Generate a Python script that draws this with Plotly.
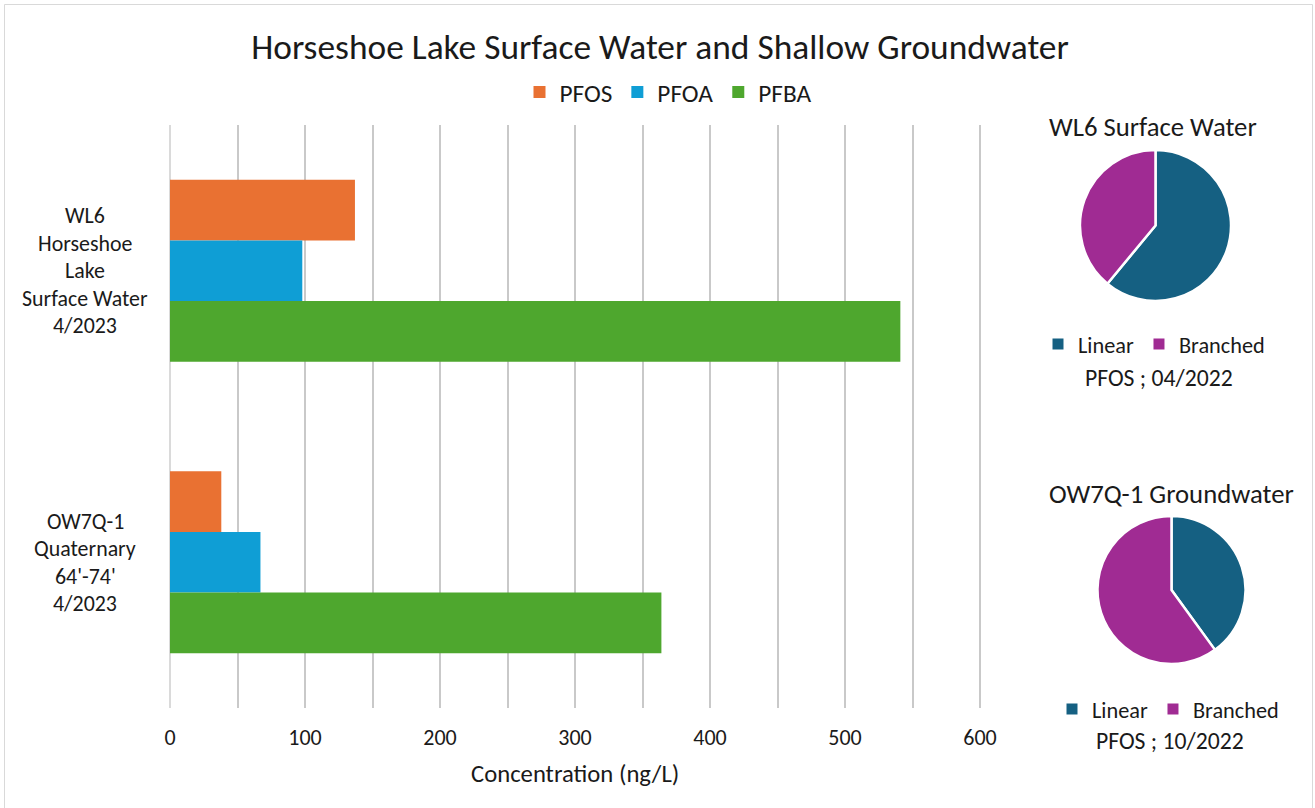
import plotly.graph_objects as go

W, H = 1315, 808

# ---- data ----
categories = ["WL6", "OW7Q-1"]
category_labels = [
    ["WL6", "Horseshoe", "Lake", "Surface Water", "4/2023"],
    ["OW7Q-1", "Quaternary", "64'-74'", "4/2023"],
]
series_names = ["PFOS", "PFOA", "PFBA"]
pfos = [137, 38]
pfoa = [98, 67]
pfba = [541, 364]
series_values = [pfos, pfoa, pfba]
series_colors = ["#E97132", "#0F9ED5", "#4EA72E"]

x_ticks = [0, 100, 200, 300, 400, 500, 600]

pie_labels = ["Linear", "Branched"]
pie_colors = ["#156082", "#A02B93"]
wl6_pfos_split = [61, 39]
ow7q_pfos_split = [40, 60]
pie_titles = ["WL6 Surface Water", "OW7Q-1 Groundwater"]
pie_subtitles = ["PFOS ; 04/2022", "PFOS ; 10/2022"]

FONT = "Calibri, Carlito, Lato"
TXT = "#1a1a1a"

def px(x):
    return x / W

def py(y):
    return 1 - y / H

fig = go.Figure()

for name, vals, col in zip(series_names, series_values, series_colors):
    fig.add_trace(go.Bar(
        y=categories, x=vals, name=name, orientation="h",
        marker=dict(color=col, line=dict(width=0)),
        legend="legend", hoverinfo="x+name",
    ))

# pies
pie_domains = [
    dict(x=[px(1080), px(1231)], y=[py(301), py(150)]),
    dict(x=[px(1097), px(1246)], y=[py(664), py(516)]),
]
for vals, dom in zip([wl6_pfos_split, ow7q_pfos_split], pie_domains):
    fig.add_trace(go.Pie(
        labels=pie_labels, values=vals, domain=dom, sort=False,
        direction="clockwise", rotation=0, textinfo="none",
        marker=dict(colors=pie_colors, line=dict(color="white", width=2.5)),
        showlegend=False,
    ))

# legend entries for each pie (one legend below each pie)
for leg in ["legend2", "legend3"]:
    for lab, col in zip(pie_labels, pie_colors):
        fig.add_trace(go.Scatter(
            x=[None], y=[None], mode="markers", name=lab,
            marker=dict(symbol="square", size=11, color=col),
            legend=leg, showlegend=True, hoverinfo="skip",
        ))

annotations = []
# category labels (multi-line, centered)
line_h = 27.5
for cat, lines in zip(categories, category_labels):
    n = len(lines)
    for i, t in enumerate(lines):
        annotations.append(dict(
            text=t, xref="paper", yref="y", x=px(85), y=cat,
            xanchor="center", yanchor="middle", showarrow=False,
            yshift=((n - 1) / 2 - i) * line_h,
            font=dict(family=FONT, size=21.9, color=TXT),
        ))
# axis title
annotations.append(dict(
    text="Concentration (ng/L)", xref="paper", yref="paper",
    x=px(575), y=py(773), xanchor="center", yanchor="middle", showarrow=False,
    font=dict(family=FONT, size=24.7, color=TXT),
))
# pie titles and subtitles
for t, cx, ty in zip(pie_titles, [1153, 1171], [127, 494]):
    annotations.append(dict(
        text=t, xref="paper", yref="paper", x=px(cx), y=py(ty),
        xanchor="center", yanchor="middle", showarrow=False,
        font=dict(family=FONT, size=26.7, color=TXT),
    ))
for s, cx, sy in zip(pie_subtitles, [1159, 1170], [377, 740]):
    annotations.append(dict(
        text=s, xref="paper", yref="paper", x=px(cx), y=py(sy),
        xanchor="center", yanchor="middle", showarrow=False,
        font=dict(family=FONT, size=23.7, color=TXT),
    ))

fig.update_layout(
    width=W, height=H,
    margin=dict(l=0, r=0, t=0, b=0, autoexpand=False),
    paper_bgcolor="white", plot_bgcolor="white",
    barmode="group", bargap=0.375, bargroupgap=0,
    title=dict(
        text="Horseshoe Lake Surface Water and Shallow Groundwater",
        x=px(660), xanchor="center", y=py(47), yanchor="middle",
        font=dict(family=FONT, size=35.4, color=TXT),
    ),
    xaxis=dict(
        domain=[px(170), px(981.35)], range=[0, 601],
        tickvals=x_ticks, ticktext=[str(v) for v in x_ticks],
        showgrid=True, gridcolor="#c9c9c9", gridwidth=1.5,
        minor=dict(dtick=50, showgrid=True, gridcolor="#c9c9c9", gridwidth=1.5),
        zeroline=True, zerolinecolor="#dadada", zerolinewidth=1.5,
        showline=False, ticks="", ticklabelstandoff=14,
        tickfont=dict(family=FONT, size=22, color=TXT),
        fixedrange=True, automargin=False,
    ),
    yaxis=dict(
        domain=[py(708), py(125)], autorange="reversed",
        showticklabels=False, showgrid=False, zeroline=False, showline=False,
        ticks="", fixedrange=True, automargin=False,
    ),
    legend=dict(
        orientation="h", x=px(668), xanchor="center", y=py(92), yanchor="middle",
        font=dict(family=FONT, size=25.3, color=TXT), traceorder="normal",
        itemwidth=30, bgcolor="rgba(0,0,0,0)",
    ),
    legend2=dict(
        orientation="h", x=px(1154), xanchor="center", y=py(344), yanchor="middle",
        font=dict(family=FONT, size=22.3, color=TXT), itemwidth=30,
        bgcolor="rgba(0,0,0,0)",
    ),
    legend3=dict(
        orientation="h", x=px(1168), xanchor="center", y=py(709), yanchor="middle",
        font=dict(family=FONT, size=22.3, color=TXT), itemwidth=30,
        bgcolor="rgba(0,0,0,0)",
    ),
    annotations=annotations,
    shapes=[dict(
        type="rect", xref="paper", yref="paper",
        x0=px(4.5), x1=px(1312.5), y0=-0.02, y1=py(4.5),
        line=dict(color="#d9d9d9", width=1), fillcolor="rgba(0,0,0,0)",
        layer="below",
    )],
)

fig.write_html(
    "out.html",
    config={"displayModeBar": False, "responsive": False},
    post_script="document.body.style.margin='0';document.body.style.padding='0';",
)
